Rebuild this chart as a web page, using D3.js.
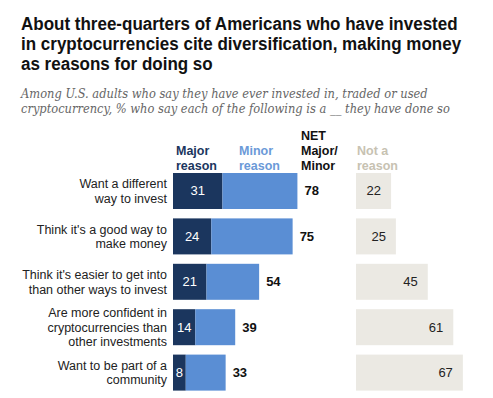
<!DOCTYPE html>
<html>
<head>
<meta charset="utf-8">
<script src="https://cdn.jsdelivr.net/npm/d3@7"></script>
<style>
  body { margin: 0; background: #fff; }
  svg { display: block; }
</style>
</head>
<body>
<svg id="chart" width="493" height="398"></svg>
<script>
// data
var categories = [
    ["Want a different", "way to invest"],
    ["Think it's a good way to", "make money"],
    ["Think it's easier to get into", "than other ways to invest"],
    ["Are more confident in", "cryptocurrencies than", "other investments"],
    ["Want to be part of a", "community"]
];
var major = [31, 24, 21, 14, 8];
var minor = [47, 51, 33, 25, 25];
var net = [78, 75, 54, 39, 33];
var notReason = [22, 25, 45, 61, 67];

var titleLines = [
    "About three-quarters of Americans who have invested",
    "in cryptocurrencies cite diversification, making money",
    "as reasons for doing so"
];
var subtitleLines = [
    "Among U.S. adults who say they have ever invested in, traded or used",
    "cryptocurrency, % who say each of the following is a __ they have done so"
];

var colors = {major: "#1b365e", minor: "#5a8ed4", not: "#ebe9e3",
    notHead: "#c7c2b2", minorHead: "#6b9ad8"};
var sans = "'Liberation Sans', Arial, sans-serif";

var svg = d3.select("#chart");
svg.append("rect").attr("width", 493).attr("height", 398).attr("fill", "#fff");

//多行文字块，横向压缩到第一行的目标宽度
function block(lines, x0, y0, lh, target, attrs){
    let g = svg.append("g");
    let t = g.append("text");
    for (let k in attrs) t.attr(k, attrs[k]);
    lines.forEach(function(l, i){
        t.append("tspan").attr("x", 0).attr("y", i * lh).text(l);
    });
    let w = t.select("tspan").node().getComputedTextLength();
    g.attr("transform", "translate(" + x0 + "," + y0 + ") scale(" + (target / w) + ",1)");
    return g;
}

//标题
block(titleLines, 21, 30, 20, 437, {"font-family": sans, "font-weight": "bold",
    "font-size": 19, "fill": "#111"});

//副标题
block(subtitleLines, 21, 97.5, 16, 407, {"font-family": "'DejaVu Serif', Georgia, serif",
    "font-style": "italic", "font-size": 12.8, "fill": "#666"});

//比例尺
let x = d3.scaleLinear().domain([0, 100]).range([0, 159.5]);
let y = d3.scaleBand().domain(d3.range(categories.length))
    .range([168.3, 395.3]).paddingInner(0.207).paddingOuter(0.1035);
let barX = 173, notX = 356;

//表头
function header(lines, xPos, yBase, color){
    let t = svg.append("text").attr("font-family", sans).attr("font-weight", "bold")
        .attr("font-size", 12.5).attr("fill", color);
    lines.forEach(function(l, i){
        t.append("tspan").attr("x", xPos).attr("y", yBase + i * 15).text(l);
    });
}
header(["Major", "reason"], 176, 155, colors.major);
header(["Minor", "reason"], 239, 155, colors.minorHead);
header(["NET", "Major/", "Minor"], 301, 140, "#111");
header(["Not a", "reason"], 357, 155, colors.notHead);

//数据行
let gs = svg.selectAll(".row").data(d3.range(categories.length)).enter()
    .append("g").attr("class", "row")
    .attr("transform", i => "translate(0," + y(i) + ")");
let bh = y.bandwidth();

gs.append("rect").attr("x", barX).attr("height", bh)
    .attr("width", i => x(major[i])).attr("fill", colors.major);
gs.append("rect").attr("x", i => barX + x(major[i])).attr("height", bh)
    .attr("width", i => x(minor[i])).attr("fill", colors.minor);
gs.append("text").attr("x", i => barX + x(major[i]) / 2).attr("y", bh / 2 + 4.5)
    .attr("text-anchor", "middle").attr("font-family", sans).attr("font-size", 13)
    .attr("fill", "#fff").text(i => major[i]);
gs.append("text").attr("x", i => barX + x(net[i]) + 7).attr("y", bh / 2 + 4.5)
    .attr("font-family", sans).attr("font-weight", "bold").attr("font-size", 13)
    .attr("fill", "#111").text(i => net[i]);
gs.append("rect").attr("x", notX).attr("height", bh)
    .attr("width", i => x(notReason[i])).attr("fill", colors.not);
gs.append("text").attr("x", i => notX + x(notReason[i]) - 10).attr("y", bh / 2 + 4.5)
    .attr("text-anchor", "end").attr("font-family", sans).attr("font-size", 13)
    .attr("fill", "#222").text(i => notReason[i]);

//类别标签
gs.each(function(i){
    let lines = categories[i];
    let t = d3.select(this).append("text").attr("text-anchor", "end")
        .attr("font-family", sans).attr("font-size", 12.5).attr("fill", "#222");
    let y0 = bh / 2 - (lines.length - 1) * 14.7 / 2 + 4.5;
    lines.forEach(function(l, k){
        t.append("tspan").attr("x", 167).attr("y", y0 + k * 14.7).text(l);
    });
});
</script>
</body>
</html>
